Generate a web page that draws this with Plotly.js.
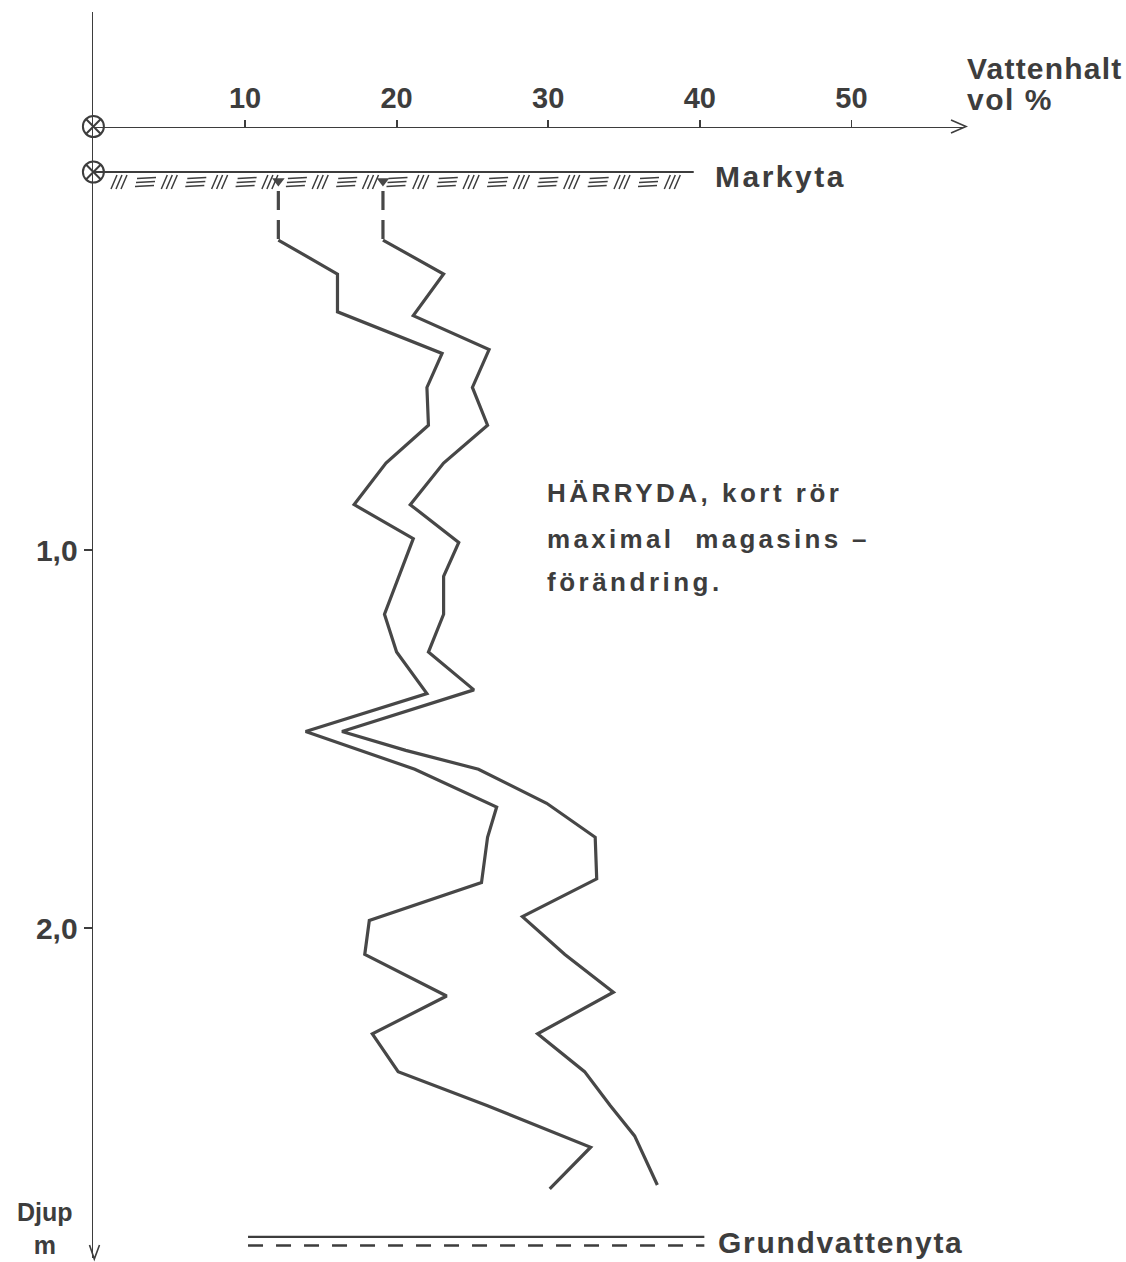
<!DOCTYPE html>
<html><head><meta charset="utf-8">
<script src="https://cdn.plot.ly/plotly-3.0.1.min.js"></script>
<style>html,body{margin:0;padding:0;background:#fff;} #chart{width:1126px;height:1262px;}</style>
</head><body><div id="chart"></div>
<script>
// ---------- data ----------
// depth in m below ground surface, water content in vol %
const depthA = [0.18,0.27,0.37,0.48,0.57,0.67,0.77,0.88,0.97,1.17,1.27,1.38,1.48,1.58,1.68,1.76,1.88,1.98,2.07,2.18,2.28,2.38,2.47,2.58,2.69];
const waterA = [12.2,16.1,16.1,23.0,22.0,22.1,19.3,17.2,21.1,19.2,20.0,22.0,14.0,21.2,26.6,26.0,25.6,18.2,17.9,23.3,18.4,20.1,26.0,32.8,30.1];
const depthB = [0.18,0.27,0.38,0.47,0.57,0.67,0.77,0.88,0.98,1.07,1.17,1.27,1.37,1.48,1.53,1.58,1.67,1.76,1.87,1.97,2.07,2.17,2.28,2.38,2.47,2.55,2.68];
const waterB = [19.1,23.1,21.1,26.1,25.0,26.0,23.1,20.9,24.1,23.1,23.1,22.1,25.1,16.4,20.6,25.4,29.9,33.1,33.2,28.3,31.1,34.3,29.3,32.4,34.1,35.7,37.2];
const xTicks = [10,20,30,40,50];
const xTickText = ['10','20','30','40','50'];
const yTicks = [1,2];
const yTickText = ['1,0','2,0'];
const surfaceDepth = 0;
const surfaceEnd = 39.6;          // vol % where the ground-surface line ends
const groundwaterDepth = 2.817;   // Grundvattenyta
const groundwaterX = [10.2, 40.3];

// ---------- geometry ----------
const W = 1126, H = 1262;
const PX0 = 93.4, PXU = 15.16;   // px of 0 vol%, px per vol%
const PY0 = 172, PYU = 378;      // px of depth 0, px per metre
const px = x => x / W;
const py = y => 1 - y / H;
const xPos = 963.6, yTop = 12, yBot = 1258, xAxisY = 126.5;
const ink = '#3d3d3d';
const FONT = 'Liberation Sans, Arial, sans-serif';

// hatch pattern under the ground surface line
let hatch = '';
const P = 50.3, start = 111;
for (let k = 0; k <= 11; k++) {
  const x = start + k * P;
  for (let s = 0; s < 3; s++) {
    const sx = x + s * 5;
    hatch += `M${px(sx)},${py(189)} L${px(sx + 6)},${py(175)} `;
  }
  if (k < 11) {
    const ex = x + 25;
    hatch += `M${px(ex + 1)},${py(178.5)} L${px(ex + 20)},${py(177.5)} M${px(ex)},${py(182.5)} L${px(ex + 19)},${py(181.5)} M${px(ex - 1)},${py(186.5)} L${px(ex + 18)},${py(185.5)} `;
  }
}

const traces = [
  {x: waterA, y: depthA, mode: 'lines', line: {color: '#474747', width: 3.2}, hoverinfo: 'skip'},
  {x: waterB, y: depthB, mode: 'lines', line: {color: '#474747', width: 3.2}, hoverinfo: 'skip'},
  {x: [waterA[0], waterA[0]], y: [0.05, depthA[0]], mode: 'lines', line: {color: '#474747', width: 3.2, dash: '19px,10px'}},
  {x: [waterB[0], waterB[0]], y: [0.05, depthB[0]], mode: 'lines', line: {color: '#474747', width: 3.2, dash: '19px,10px'}},
  {x: [waterA[0], waterB[0]], y: [0.024, 0.024], mode: 'markers', marker: {symbol: 'triangle-down', size: 11, color: '#474747'}, cliponaxis: false},
  {x: [0, 0], y: [surfaceDepth, (xAxisY - PY0) / PYU], mode: 'markers', cliponaxis: false,
   marker: {symbol: 'circle-x-open', size: 21, color: ink, line: {width: 2, color: ink}}}
];

const shapes = [
  {type: 'line', xref: 'x', yref: 'y', x0: 0, x1: surfaceEnd, y0: surfaceDepth, y1: surfaceDepth, line: {color: ink, width: 1.8}},
  {type: 'path', xref: 'paper', yref: 'paper', path: hatch, line: {color: ink, width: 1.5}},
  {type: 'line', xref: 'x', yref: 'y', x0: groundwaterX[0], x1: groundwaterX[1], y0: groundwaterDepth, y1: groundwaterDepth, line: {color: ink, width: 2.2}},
  {type: 'line', xref: 'x', yref: 'y', x0: groundwaterX[0], x1: groundwaterX[1], y0: groundwaterDepth + 0.023, y1: groundwaterDepth + 0.023, line: {color: ink, width: 2.6, dash: '15px,13px'}},
  {type: 'path', xref: 'paper', yref: 'paper', path: `M${px(951)},${py(120)} L${px(966)},${py(126.5)} L${px(951)},${py(133)}`, line: {color: ink, width: 1.6}},
  {type: 'path', xref: 'paper', yref: 'paper', path: `M${px(89.5)},${py(1245)} L${px(94.3)},${py(1259)} L${px(99.5)},${py(1245)}`, line: {color: ink, width: 1.6}}
];

function ann(text, x, y, size, xanchor, extra) {
  return Object.assign({text, x: px(x), y: py(y), xref: 'paper', yref: 'paper', showarrow: false,
    xanchor: xanchor || 'left', yanchor: 'middle', align: xanchor === 'center' ? 'center' : 'left',
    font: {family: FONT, size, color: ink, weight: 700}}, extra || {});
}
const annotations = [
  ann('Vattenhalt', 965, 68, 30),
  ann('vol %', 965, 100, 30),
  ann('Markyta', 713, 176, 30),
  ann('HÄRRYDA, kort rör', 545, 493, 26),
  ann('maximal  magasins –', 545, 539, 26),
  ann('förändring.', 545, 582, 26),
  ann('Grundvattenyta', 716, 1242, 30),
  ann('Djup<br>m', 45, 1228, 25, 'center')
];
const spacing = [1.2, 1.5, 2.5, 3.5, 3.3, 3.5, 1.7, 0];

const layout = {
  width: W, height: H, margin: {l: 0, r: 0, t: 0, b: 0, pad: 0},
  paper_bgcolor: '#fff', plot_bgcolor: '#fff', showlegend: false,
  xaxis: {domain: [PX0 / W, xPos / W], range: [0, (xPos - PX0) / PXU], side: 'top', anchor: 'free',
    position: py(xAxisY), showline: true, linecolor: ink, linewidth: 1.8, ticks: 'outside', ticklen: 7,
    tickwidth: 1.8, tickcolor: ink, tickvals: xTicks, ticktext: xTickText,
    tickfont: {family: FONT, size: 29, color: ink, weight: 700}, showgrid: false, zeroline: false, fixedrange: true},
  yaxis: {domain: [py(yBot), py(yTop)], range: [(yBot - PY0) / PYU, (yTop - PY0) / PYU], autorange: false,
    showline: true, linecolor: ink, linewidth: 1.8, ticks: 'outside', ticklen: 8, tickwidth: 1.8, tickcolor: ink,
    tickvals: yTicks, ticktext: yTickText, tickfont: {family: FONT, size: 30, color: ink, weight: 700},
    showgrid: false, zeroline: false, fixedrange: true},
  shapes, annotations
};

Plotly.newPlot('chart', traces, layout, {staticPlot: true, displayModeBar: false}).then(() => {
  const els = document.querySelectorAll('.annotation-text');
  els.forEach((el, i) => { if (spacing[i]) el.style.letterSpacing = spacing[i] + 'px'; });
});
</script></body></html>
